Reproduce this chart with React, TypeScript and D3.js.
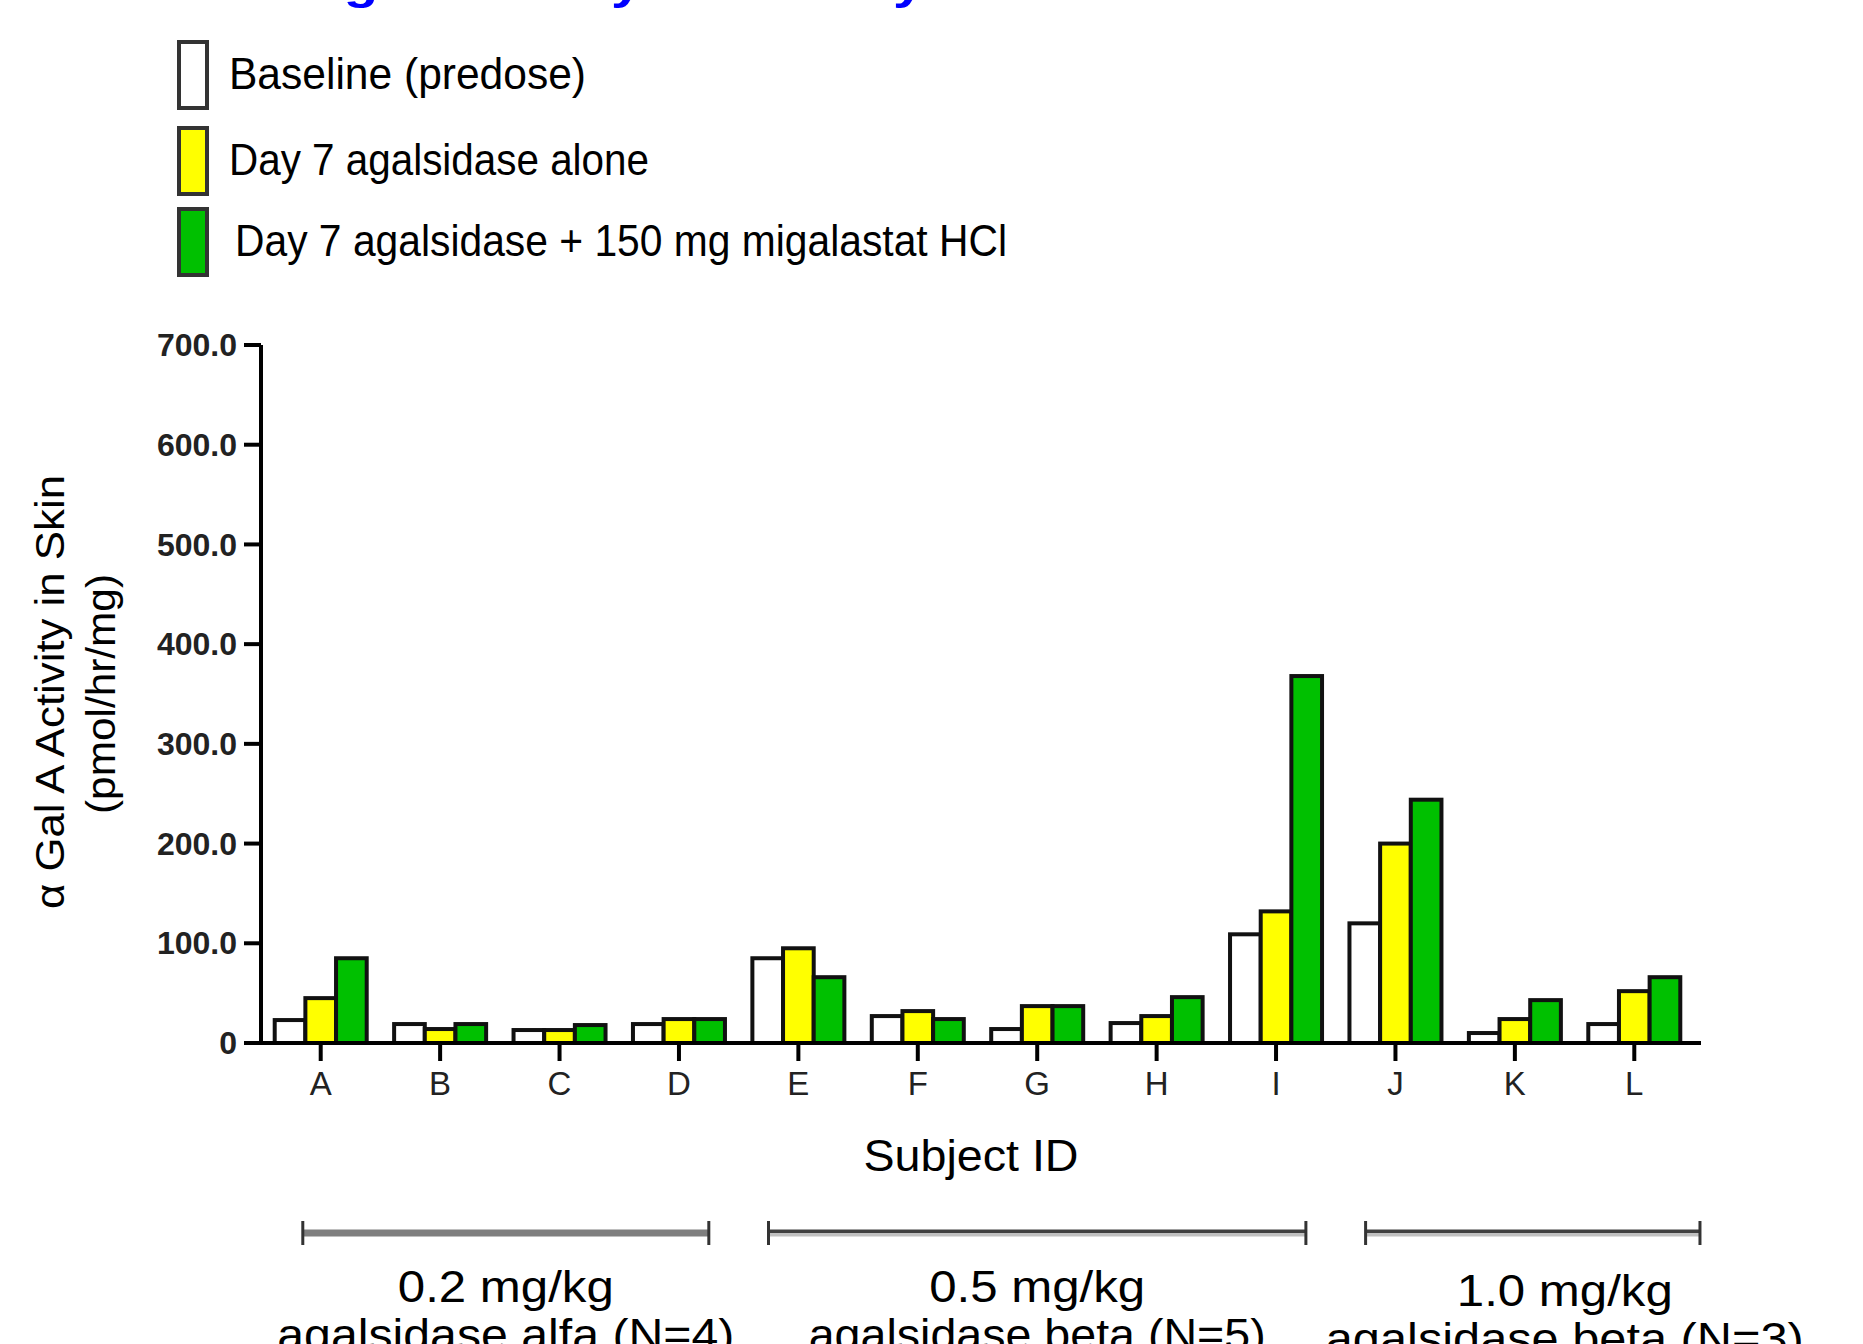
import React from "react";
import * as d3 from "d3";

const subjects = ["A", "B", "C", "D", "E", "F", "G", "H", "I", "J", "K", "L"];
const baseline = [23, 19, 13, 19, 85, 27, 14, 20, 109, 120, 10, 19];
const day7Alone = [45, 14, 13, 24, 95, 32, 37, 27, 132, 200, 24, 52];
const day7Combo = [85, 19, 18, 24, 66, 24, 37, 46, 368, 244, 43, 66];

const seriesNames = [
  "Baseline  (predose)",
  "Day 7 agalsidase alone",
  "Day 7 agalsidase + 150 mg migalastat HCl",
];
const seriesColors = ["#ffffff", "#ffff00", "#00c000"];

const yTicks = [0, 100, 200, 300, 400, 500, 600, 700];
const yTickLabels = ["0", "100.0", "200.0", "300.0", "400.0", "500.0", "600.0", "700.0"];

const doseGroups = [
  { dose: "0.2 mg/kg", drug: "agalsidase alfa (N=4)", first: "A", last: "D" },
  { dose: "0.5 mg/kg", drug: "agalsidase beta (N=5)", first: "E", last: "I" },
  { dose: "1.0 mg/kg", drug: "agalsidase beta (N=3)", first: "J", last: "L" },
];

const W = 1863;
const H = 1344;
const font = "'Liberation Sans', Arial, sans-serif";

export default function App() {
  const series = [baseline, day7Alone, day7Combo];

  const x = d3.scaleBand<string>().domain(subjects).range([261, 1694]);
  const step = x.step();
  const groupW = 92;
  const inner = d3.scaleBand<number>().domain([0, 1, 2]).range([0, groupW]);
  const y = d3.scaleLinear().domain([0, 700]).range([1043, 345]);

  const legendRows = [74, 160, 241];

  return (
    <svg
      width={W}
      height={H}
      style={{ position: "absolute", left: 0, top: 0, background: "#fff" }}
      fontFamily={font}
    >
      {/* title, cut off at the top edge like the source */}
      <text
        x={303}
        y={-1}
        fontSize={44}
        fontWeight="bold"
        fill="#0000ff"
        textLength={1033}
        lengthAdjust="spacingAndGlyphs"
      >
        Agal Activity in Skin by Treatment Arm
      </text>

      {/* legend */}
      {seriesNames.map((name, i) => (
        <g key={name}>
          <rect
            x={179}
            y={legendRows[i] - 32}
            width={28}
            height={66}
            fill={seriesColors[i]}
            stroke="#333"
            strokeWidth={4}
          />
          <text
            x={i === 2 ? 235 : 229}
            y={legendRows[i]}
            dy="0.35em"
            fontSize={44}
            fill="#000"
            textLength={[357, 420, 772][i]}
            lengthAdjust="spacingAndGlyphs"
          >
            {name}
          </text>
        </g>
      ))}

      {/* bars */}
      {subjects.map((s, j) => (
        <g key={s} transform={`translate(${(x(s) as number) + (step - groupW) / 2},0)`}>
          {series.map((vals, i) => (
            <rect
              key={i}
              x={inner(i) as number}
              y={y(vals[j])}
              width={inner.bandwidth()}
              height={y(0) - y(vals[j])}
              fill={seriesColors[i]}
              stroke="#111"
              strokeWidth={4}
            />
          ))}
        </g>
      ))}

      {/* y axis */}
      <line x1={261} x2={261} y1={y(700)} y2={y(0)} stroke="#000" strokeWidth={4} />
      {yTicks.map((t, i) => (
        <g key={t}>
          <line x1={244} x2={261} y1={y(t)} y2={y(t)} stroke="#000" strokeWidth={4} />
          <text
            x={237}
            y={y(t)}
            dy="0.35em"
            textAnchor="end"
            fontSize={32}
            fontWeight="bold"
            fill="#222"
          >
            {yTickLabels[i]}
          </text>
        </g>
      ))}
      <text
        transform="translate(50,692) rotate(-90)"
        textAnchor="middle"
        dy="0.35em"
        fontSize={40}
        textLength={434}
        lengthAdjust="spacingAndGlyphs"
      >
        α Gal A Activity in Skin
      </text>
      <text
        transform="translate(101,694) rotate(-90)"
        textAnchor="middle"
        dy="0.35em"
        fontSize={40}
        textLength={240}
        lengthAdjust="spacingAndGlyphs"
      >
        (pmol/hr/mg)
      </text>

      {/* x axis */}
      <line x1={244} x2={1701} y1={y(0)} y2={y(0)} stroke="#000" strokeWidth={4} />
      {subjects.map((s) => {
        const cx = (x(s) as number) + x.bandwidth() / 2;
        return (
          <g key={s}>
            <line x1={cx} x2={cx} y1={y(0)} y2={y(0) + 18} stroke="#000" strokeWidth={4} />
            <text x={cx} y={1083} dy="0.35em" textAnchor="middle" fontSize={33} fill="#222">
              {s}
            </text>
          </g>
        );
      })}
      <text
        x={971}
        y={1156}
        dy="0.35em"
        textAnchor="middle"
        fontSize={44}
        textLength={215}
        lengthAdjust="spacingAndGlyphs"
      >
        Subject ID
      </text>

      {/* dose group brackets */}
      {doseGroups.map((g, i) => {
        const x1 = (x(g.first) as number) + step * (i === 0 ? 0.35 : 0.25);
        const x2 = (x(g.last) as number) + step * (i === 2 ? 1.05 : 0.75);
        const by = 1233;
        const cx = (x1 + x2) / 2 + (i === 2 ? 32 : 0);
        return (
          <g key={g.dose}>
            {i === 0 ? (
              <line x1={x1} x2={x2} y1={by} y2={by} stroke="#7f7f7f" strokeWidth={7} />
            ) : (
              <>
                <line x1={x1} x2={x2} y1={by - 1.75} y2={by - 1.75} stroke="#404040" strokeWidth={3.5} />
                <line x1={x1} x2={x2} y1={by + 1.75} y2={by + 1.75} stroke="#c0c0c0" strokeWidth={3.5} />
              </>
            )}
            <line x1={x1} x2={x1} y1={by - 12} y2={by + 12} stroke="#333" strokeWidth={3} />
            <line x1={x2} x2={x2} y1={by - 12} y2={by + 12} stroke="#333" strokeWidth={3} />
            <text
              x={cx}
              y={i === 2 ? 1306 : 1302}
              textAnchor="middle"
              fontSize={44}
              textLength={216}
              lengthAdjust="spacingAndGlyphs"
            >
              {g.dose}
            </text>
            <text
              x={cx}
              y={i === 2 ? 1354 : 1350}
              textAnchor="middle"
              fontSize={44}
              textLength={i === 2 ? 478 : 457}
              lengthAdjust="spacingAndGlyphs"
            >
              {g.drug}
            </text>
          </g>
        );
      })}
    </svg>
  );
}
